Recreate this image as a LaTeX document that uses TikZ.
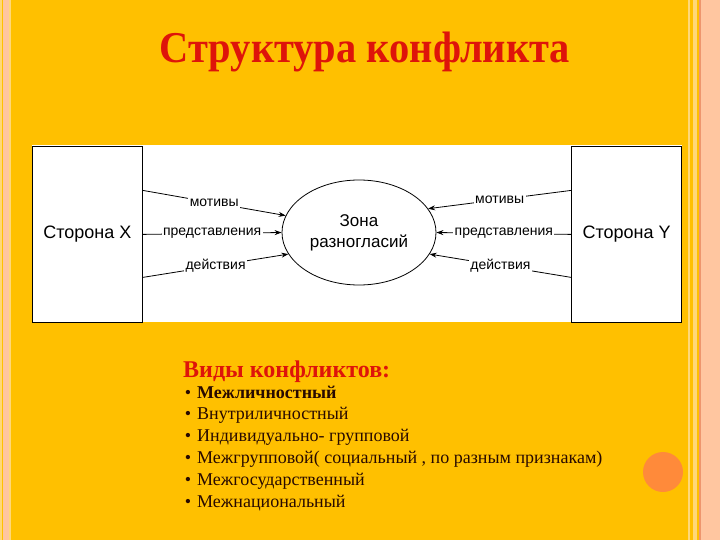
\documentclass[tikz,border=0pt]{standalone}
\usepackage{fontspec}
\setmainfont{Liberation Serif}
\newfontfamily\schemefont{Liberation Sans}
\usetikzlibrary{shapes.geometric,arrows.meta}

\definecolor{slidegold}{RGB}{255,192,0}
\definecolor{slidepeach}{RGB}{255,198,160}
\definecolor{slidepale}{RGB}{255,216,120}
\definecolor{slidesalmon}{RGB}{238,150,110}
\definecolor{slidered}{RGB}{222,20,10}
\definecolor{slideink}{RGB}{40,10,0}
\definecolor{dotorange}{RGB}{255,138,58}

\begin{document}
\begin{tikzpicture}[x=1pt,y=-1pt,
  side/.style={draw,fill=white,line width=0.8pt,minimum width=110pt,
    minimum height=176pt,inner sep=0pt,
    font=\schemefont\fontsize{18}{20}\selectfont},
  zonebox/.style={ellipse,draw,line width=0.8pt,minimum width=154pt,
    minimum height=105pt,inner sep=0pt,align=center,
    font=\schemefont\fontsize{17}{21}\selectfont},
  link/.style={line width=0.8pt,-{Stealth[length=7pt,width=5pt]}},
  tag/.style={fill=white,inner sep=1.5pt,
    font=\schemefont\fontsize{14}{16}\selectfont}]

  % slide background and side stripes
  \useasboundingbox (0,0) rectangle (720,540);
  \fill[slidegold] (0,0) rectangle (720,540);
  \fill[slidepale] (0,0) rectangle (2,540);
  \fill[slidepeach] (2.5,0) rectangle (9,540);
  \fill[slidepale] (9,0) rectangle (11,540);
  \fill[slidepale] (688,0) rectangle (690,540);
  \fill[slidepale] (693,0) rectangle (697,540);
  \fill[slidesalmon] (699,0) rectangle (701,540);
  \fill[slidepeach] (701,0) rectangle (720,540);
  \fill[dotorange] (663,472) circle (20);

  % title
  \node[text=slidered,font=\bfseries\fontsize{44}{48}\selectfont,anchor=base,
    xscale=0.92] (title) at (365,63) {Структура конфликта};

  % scheme
  \fill[white] (32,145) rectangle (682,322);
  \node[side,anchor=north west] (sideX) at (32,146) {Сторона X};
  \node[side,anchor=north east] (sideY) at (682,146) {Сторона Y};
  \node[zonebox] (zone) at (359,232.5) {Зона\\разногласий};

  \draw[link] ([yshift=44pt]sideX.east) -- node[tag]{мотивы} (zone.167);
  \draw[link] (sideX.east) -- node[tag]{представления} (zone.west);
  \draw[link] ([yshift=-43pt]sideX.east) -- node[tag]{действия} (zone.197);
  \draw[link] ([yshift=44pt]sideY.west) -- node[tag]{мотивы} (zone.19);
  \draw[link] (sideY.west) -- node[tag]{представления} (zone.east);
  \draw[link] ([yshift=-43pt]sideY.west) -- node[tag]{действия} (zone.-17);

  % kinds of conflicts
  \node[text=slidered,font=\bfseries\fontsize{24}{26}\selectfont,
    anchor=base west,inner sep=0pt] (kinds) at (183,377) {Виды конфликтов:};
  \foreach \i/\txt in {1/Межличностный,2/Внутриличностный,
      3/Индивидуально- групповой,
      4/{Межгрупповой( социальный , по разным признакам)},
      5/Межгосударственный,6/Межнациональный}
  {
    \node[text=slideink,font=\fontsize{18}{20}\selectfont,anchor=base,
      inner sep=0pt] (dot\i) at (188,398+21.8*\i-21.8) {•};
    \node[text=slideink,font=\fontsize{18}{20}\selectfont,anchor=base west,
      inner sep=0pt] (item\i) at (197,398+21.8*\i-21.8)
      {\ifnum\i=1\bfseries\fi\txt};
  }
\end{tikzpicture}
\end{document}
